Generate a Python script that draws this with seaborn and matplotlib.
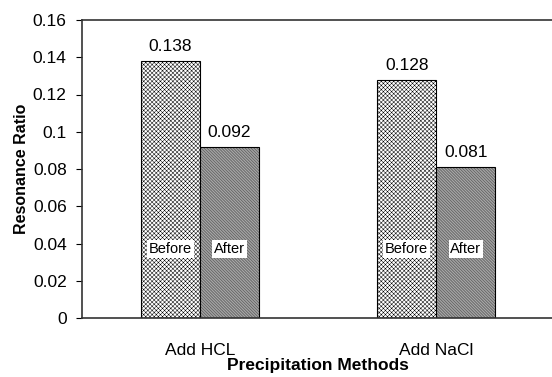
import matplotlib
matplotlib.use("Agg")
import matplotlib.pyplot as plt
import seaborn as sns
import pandas as pd

methods = ["Add HCL", "Add NaCl"]
stages = ["Before", "After"]
before_vals = [0.138, 0.128]
after_vals = [0.092, 0.081]
y_ticks = [0, 0.02, 0.04, 0.06, 0.08, 0.1, 0.12, 0.14, 0.16]
y_tick_labels = ["0", "0.02", "0.04", "0.06", "0.08", "0.1", "0.12", "0.14", "0.16"]

df = pd.DataFrame({
    "Method": methods * 2,
    "Stage": [stages[0]] * 2 + [stages[1]] * 2,
    "Ratio": before_vals + after_vals,
})

sns.set_theme(style="white")
plt.rcParams["font.family"] = ["Liberation Sans", "DejaVu Sans"]
plt.rcParams["hatch.linewidth"] = 0.35
plt.rcParams["text.color"] = "black"
plt.rcParams["axes.labelcolor"] = "black"
plt.rcParams["xtick.color"] = "black"
plt.rcParams["ytick.color"] = "black"

fig = plt.figure(figsize=(5.52, 3.77), dpi=100)
ax = fig.add_axes([82 / 552, 1 - 318 / 377, 1 - 82 / 552 + 0.004, 298 / 377])

sns.barplot(data=df, x="Method", y="Ratio", hue="Stage", order=methods,
            hue_order=stages, palette=["white", "white"], width=0.5,
            edgecolor="black", linewidth=0.8, legend=False, ax=ax)

hatches = {"Before": "x" * 8, "After": "\\" * 22}
for container, stage in zip(ax.containers, stages):
    for bar in container:
        bar.set_hatch(hatches[stage])
        bar.set_edgecolor("black")
        cx = bar.get_x() + bar.get_width() / 2
        h = bar.get_height()
        ax.annotate(f"{h:g}", (cx, h), xytext=(0, 5), textcoords="offset points",
                    ha="center", va="bottom", fontsize=12.5)
        ax.text(cx, 0.037, stage, ha="center", va="center", fontsize=10.5,
                bbox=dict(facecolor="white", edgecolor="none", pad=1.2))

ax.set_xlim(-0.5, 1.5)
ax.set_ylim(0, 0.16)
ax.set_yticks(y_ticks)
ax.set_yticklabels(y_tick_labels)
ax.tick_params(axis="y", left=True, length=4, width=0.8, labelsize=12.5, pad=7)
ax.tick_params(axis="x", bottom=False, labelsize=12.5, pad=12)
ax.set_xlabel("Precipitation Methods", fontsize=12.5, fontweight="bold", labelpad=0)
ax.set_ylabel("Resonance Ratio", fontsize=11.5, fontweight="bold", labelpad=3)

for side in ["left", "bottom", "top"]:
    ax.spines[side].set_color("#333333")
    ax.spines[side].set_linewidth(1.2)
ax.spines["right"].set_visible(False)

fig.savefig("out.png", dpi=100)
